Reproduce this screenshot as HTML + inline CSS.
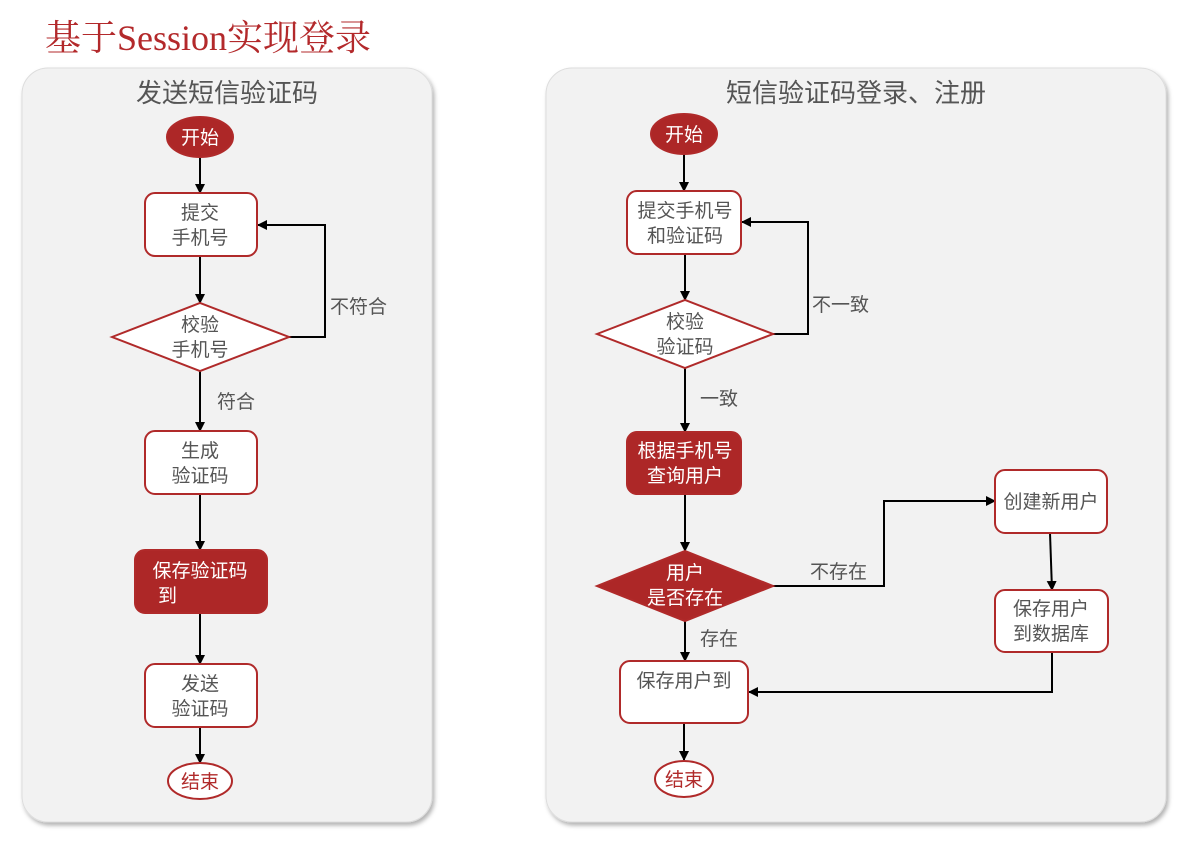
<!DOCTYPE html>
<html><head><meta charset="utf-8"><style>
html,body{margin:0;padding:0;background:#fff;width:1186px;height:844px;overflow:hidden}
svg text{font-family:"Liberation Sans","Noto Sans CJK SC",sans-serif;font-size:19px;fill:#555}
</style></head><body>
<svg width="1186" height="844" viewBox="0 0 1186 844" xmlns="http://www.w3.org/2000/svg">
<defs>
<marker id="a" markerWidth="10" markerHeight="10" refX="9" refY="5" orient="auto" markerUnits="userSpaceOnUse"><path d="M0,0 L10,5 L0,10 z" fill="#000"/></marker>
<filter id="sh" x="-5%" y="-5%" width="110%" height="110%"><feDropShadow dx="2" dy="3" stdDeviation="2" flood-color="#000" flood-opacity="0.3"/></filter>
</defs>
<text x="45" y="50" style="font-family:'Liberation Serif','Noto Serif CJK SC',serif;font-size:36px;fill:#b3292b">基于Session实现登录</text>
<rect x="22" y="68" width="410" height="754" rx="26" fill="#f2f2f2" stroke="#ddd" filter="url(#sh)"/>
<rect x="546" y="68" width="620" height="754" rx="26" fill="#f2f2f2" stroke="#ddd" filter="url(#sh)"/>
<text x="227" y="102" text-anchor="middle" style="font-size:26px;fill:#555">发送短信验证码</text>
<text x="856" y="102" text-anchor="middle" style="font-size:26px;fill:#555">短信验证码登录、注册</text>
<g stroke="#000" stroke-width="2" fill="none" marker-end="url(#a)">
<line x1="200" y1="157" x2="200" y2="193"/>
<line x1="200" y1="256" x2="200" y2="303"/>
<polyline points="289,337 325,337 325,225 258,225"/>
<line x1="200" y1="371" x2="200" y2="431"/>
<line x1="200" y1="494" x2="200" y2="550"/>
<line x1="200" y1="613" x2="200" y2="664"/>
<line x1="200" y1="727" x2="200" y2="763"/>
<line x1="684" y1="154" x2="684" y2="191"/>
<line x1="685" y1="254" x2="685" y2="300"/>
<polyline points="773,334 808,334 808,222 742,222"/>
<line x1="685" y1="368" x2="685" y2="432"/>
<line x1="685" y1="494" x2="685" y2="551"/>
<polyline points="773,586 884,586 884,501 995,501"/>
<line x1="1050" y1="533" x2="1052" y2="590"/>
<polyline points="1052,652 1052,692 749,692"/>
<line x1="685" y1="621" x2="685" y2="661"/>
<line x1="684" y1="723" x2="684" y2="760"/>
</g>
<g stroke="#b02a2a" stroke-width="2">
<ellipse cx="200" cy="137" rx="33" ry="20" fill="#ad2727"/>
<rect x="145" y="193" width="112" height="63" rx="10" fill="#fff"/>
<polygon points="112,337 200,303 289,337 200,371" fill="#fff"/>
<rect x="145" y="431" width="112" height="63" rx="10" fill="#fff"/>
<rect x="135" y="550" width="132" height="63" rx="10" fill="#ad2727"/>
<rect x="145" y="664" width="112" height="63" rx="10" fill="#fff"/>
<ellipse cx="200" cy="781" rx="32" ry="18" fill="#fff"/>
<ellipse cx="684" cy="134" rx="33" ry="20" fill="#ad2727"/>
<rect x="627" y="191" width="114" height="63" rx="10" fill="#fff"/>
<polygon points="597,334 685,300 773,334 685,368" fill="#fff"/>
<rect x="627" y="432" width="114" height="62" rx="10" fill="#ad2727"/>
<polygon points="597,586 685,551 773,586 685,621" fill="#ad2727"/>
<rect x="995" y="470" width="112" height="63" rx="10" fill="#fff"/>
<rect x="995" y="590" width="113" height="62" rx="10" fill="#fff"/>
<rect x="620" y="661" width="128" height="62" rx="10" fill="#fff"/>
<ellipse cx="684" cy="779" rx="29" ry="18" fill="#fff"/>
</g>
<g text-anchor="middle">
<text x="200" y="144" style="fill:#fff">开始</text>
<text x="200" y="219">提交</text><text x="200" y="244">手机号</text>
<text x="200" y="331">校验</text><text x="200" y="356">手机号</text>
<text x="200" y="457">生成</text><text x="200" y="482">验证码</text>
<text x="200" y="577" style="fill:#fff">保存验证码</text>
<text x="200" y="714" style="fill:#fff"></text>
<text x="200" y="690">发送</text><text x="200" y="715">验证码</text>
<text x="200" y="788" style="fill:#b02a2a">结束</text>
<text x="684" y="141" style="fill:#fff">开始</text>
<text x="685" y="217">提交手机号</text><text x="685" y="242">和验证码</text>
<text x="685" y="328">校验</text><text x="685" y="353">验证码</text>
<text x="685" y="457" style="fill:#fff">根据手机号</text><text x="685" y="482" style="fill:#fff">查询用户</text>
<text x="685" y="579" style="fill:#fff">用户</text><text x="685" y="604" style="fill:#fff">是否存在</text>
<text x="1051" y="508">创建新用户</text>
<text x="1051" y="615">保存用户</text><text x="1051" y="640">到数据库</text>
<text x="684" y="687">保存用户到</text>
<text x="684" y="786" style="fill:#b02a2a">结束</text>
</g>
<text x="158" y="602" style="fill:#fff">到</text>
<text x="330" y="313">不符合</text>
<text x="217" y="408">符合</text>
<text x="812" y="311">不一致</text>
<text x="700" y="405">一致</text>
<text x="810" y="578">不存在</text>
<text x="700" y="645">存在</text>
</svg>
</body></html>
